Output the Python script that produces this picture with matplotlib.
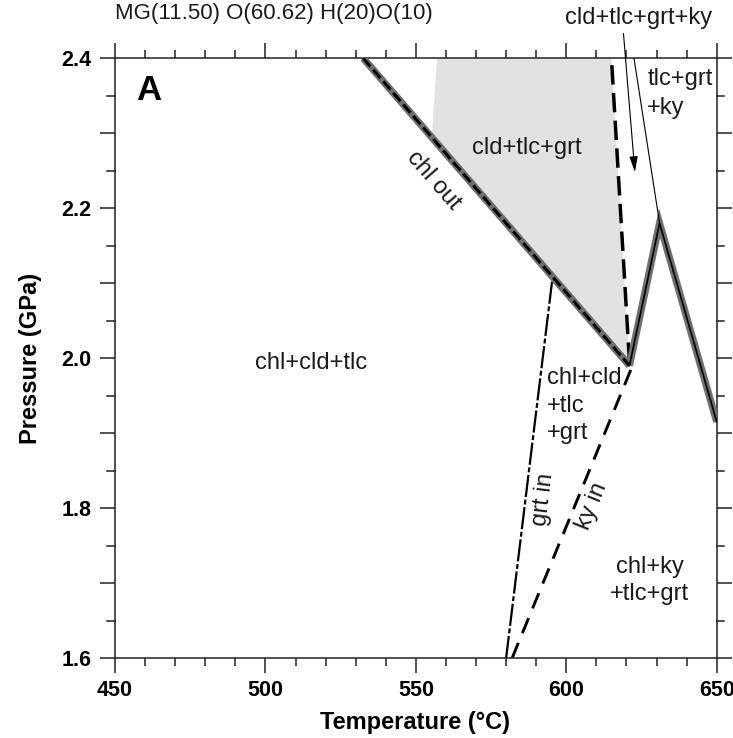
import matplotlib

matplotlib.use("Agg")
import matplotlib.pyplot as plt
from matplotlib.ticker import MultipleLocator

plt.rcParams["font.family"] = ["Liberation Sans", "DejaVu Sans"]

# phase boundaries (T in degC, P in GPa)
chl_out_t = [532.5, 621.0]
chl_out_p = [2.40, 1.99]
ridge_t = [621.0, 631.0, 650.0]
ridge_p = [1.99, 2.18, 1.915]
thin_t = [631.0, 622.5]
thin_p = [2.18, 2.40]
cld_out_t = [621.0, 615.0]
cld_out_p = [1.995, 2.40]
ky_in_t = [582.0, 621.5]
ky_in_p = [1.60, 1.985]
grt_in_t = [580.0, 595.5]
grt_in_p = [1.60, 2.11]
field_t = [557.0, 615.0, 621.0, 555.3]
field_p = [2.40, 2.40, 1.99, 2.293]

x_ticks = [450, 500, 550, 600, 650]
y_ticks = [1.6, 1.8, 2.0, 2.2, 2.4]

GRAY = "#6f6f6f"
INK = "#1a1a1a"

fig = plt.figure(figsize=(7.33, 7.38), dpi=100)
ax = fig.add_axes([0.1569, 0.1084, 0.8209, 0.8127])
ax.set_xlim(450, 650)
ax.set_ylim(1.6, 2.4)

ax.fill(field_t, field_p, color="#e2e2e2", lw=0, zorder=1)

# chl out: grey band with black dashes on top
ax.plot(chl_out_t, chl_out_p, color=GRAY, lw=5.2, solid_capstyle="butt", zorder=3)
ax.plot(chl_out_t, chl_out_p, color="k", lw=2.2, linestyle=(0, (3.6, 1.4)), zorder=4)
ax.plot(ridge_t, ridge_p, color=GRAY, lw=5.2, solid_joinstyle="miter",
        solid_capstyle="butt", zorder=3)
ax.plot(ridge_t, ridge_p, color="k", lw=1.2, zorder=4)
ax.plot(thin_t, thin_p, color="k", lw=0.8, zorder=4)
ax.plot(cld_out_t, cld_out_p, color="k", lw=2.5, linestyle=(0, (5.6, 2.4)), zorder=2)
ax.plot(ky_in_t, ky_in_p, color="k", lw=2.1, linestyle=(0, (5.6, 3.6)), zorder=2)
ax.plot(grt_in_t, grt_in_p, color="k", lw=1.6, linestyle=(0, (10, 1.2, 2.2, 1.2)), zorder=2)

ax.annotate("", xy=(622.8, 2.248), xytext=(619.0, 2.433), annotation_clip=False,
            arrowprops=dict(arrowstyle="-|>,head_length=0.95,head_width=0.25",
                            color="k", lw=0.8, mutation_scale=10, shrinkA=0, shrinkB=0))

lab = dict(fontsize=17, color=INK)
ax.text(461.1, 2.357, "A", fontsize=25, fontweight="bold", ha="center", va="center")
ax.text(586.8, 2.28, "cld+tlc+grt", ha="center", va="center", **lab)
ax.text(555.9, 2.237, "chl out", rotation=-49, ha="center", va="center", **lab)
ax.text(626.9, 2.372, "tlc+grt", ha="left", va="center", **lab)
ax.text(626.9, 2.333, "+ky", ha="left", va="center", **lab)
ax.text(515.1, 1.993, "chl+cld+tlc", ha="center", va="center", **lab)
ax.text(593.7, 1.973, "chl+cld", ha="left", va="center", **lab)
ax.text(593.7, 1.936, "+tlc", ha="left", va="center", **lab)
ax.text(593.7, 1.900, "+grt", ha="left", va="center", **lab)
ax.text(592.5, 1.811, "grt in", rotation=83, ha="center", va="center", **lab)
ax.text(608.5, 1.803, "ky in", rotation=68, ha="center", va="center", **lab)
ax.text(627.7, 1.722, "chl+ky", ha="center", va="center", **lab)
ax.text(627.7, 1.686, "+tlc+grt", ha="center", va="center", **lab)

fig.text(115 / 733, 1 - 13 / 738, "MG(11.50) O(60.62) H(20)O(10)", fontsize=16,
         color=INK, ha="left", va="center")
fig.text(639 / 733, 1 - 18 / 738, "cld+tlc+grt+ky", fontsize=17, color=INK,
         ha="center", va="center")
fig.text(415.5 / 733, 1 - 722 / 738, "Temperature (\u00b0C)", fontsize=17,
         fontweight="bold", ha="center", va="center")
fig.text(30 / 733, 1 - 358 / 738, "Pressure (GPa)", fontsize=17, fontweight="bold",
         rotation=90, ha="center", va="center")

ax.set_xticks(x_ticks)
ax.set_xticklabels([str(v) for v in x_ticks])
ax.set_yticks(y_ticks)
ax.set_yticklabels([f"{v:.1f}" for v in y_ticks])
ax.xaxis.set_minor_locator(MultipleLocator(10))
ax.yaxis.set_minor_locator(MultipleLocator(0.1))
ax.tick_params(which="both", direction="out", top=True, right=True, width=1.1,
               color="#222222")
ax.tick_params(axis="x", which="major", length=11, pad=5, labelsize=15.5)
ax.tick_params(axis="x", which="minor", length=5.5)
ax.tick_params(axis="y", which="major", length=11, pad=6, labelsize=15.5)
ax.tick_params(axis="y", which="minor", length=11)
for t in ax.get_xticklabels() + ax.get_yticklabels():
    t.set_fontweight("bold")
for s in ax.spines.values():
    s.set_linewidth(1.1)
    s.set_color("#222222")

# extra short ticks every 0.05 GPa on both pressure axes
for p in [1.65, 1.75, 1.85, 1.95, 2.05, 2.15, 2.25, 2.35]:
    for x0, x1 in [(0.0, -0.0128), (1.0, 1.0128)]:
        ax.plot([x0, x1], [p, p], transform=ax.get_yaxis_transform(), color="#222222",
                lw=1.1, clip_on=False)

fig.savefig("out.png", dpi=100)
